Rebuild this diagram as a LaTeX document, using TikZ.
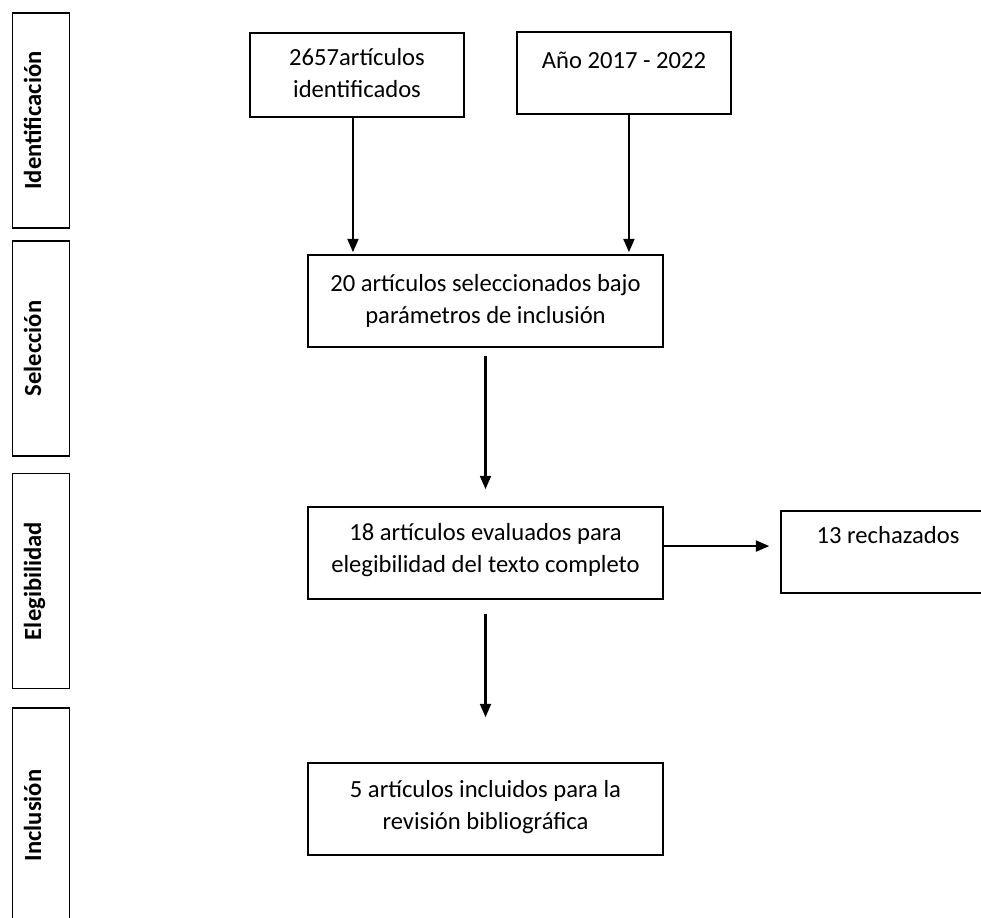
\documentclass[tikz,border=0pt]{standalone}
\usepackage{fontspec}
\setmainfont{Carlito}
\usetikzlibrary{arrows.meta,positioning,calc}
\newlength{\px}
\setlength{\px}{0.447pt}
% text box: width, height, top gap, text
\newcommand{\boxtext}[4]{\parbox[c][#2\px][t]{#1\px}{\centering\vspace*{#3\px}\strut #4\par}}
\tikzset{
    stage/.style={
        rectangle,
        draw, line width=0.7pt,
        inner sep=0pt,
        font={\fontsize{11pt}{14pt}\selectfont}
    },
    phase/.style={
        rectangle,
        draw, line width=0.7pt,
        rotate=90,
        minimum width=96.1pt,
        minimum height=25.5pt,
        text height=6pt, text depth=6pt,
        inner sep=0pt,
        font={\fontsize{11pt}{14pt}\selectfont\bfseries}
    },
    flow/.style={draw, line width=1pt, -{Triangle[width=4.9pt,length=6pt]}},
}

\begin{document}
\begin{tikzpicture}[x=0.447pt, y=-0.447pt]

\useasboundingbox (0,0) rectangle (981,917);
\clip (0,0) rectangle (981,917);

\foreach \l/\y [count=\i] in {Identificación/120.5, Selección/348.5, Elegibilidad/581, Inclusión/815.5}
  \node [phase] (phase-\i) at (41,\y) {\l};

\node [stage] (found) at (357,75) {\boxtext{214}{84}{11}{2657artículos\\identificados}};
\node [stage] (years) at (624,73) {\boxtext{214}{82}{15}{Año 2017 - 2022}};
\node [stage] (selected) at (485.5,301) {\boxtext{355}{92}{15}{20 artículos seleccionados bajo\\parámetros de inclusión}};
\node [stage] (assessed) at (485.5,553) {\boxtext{355}{92}{12}{18 artículos evaluados para\\elegibilidad del texto completo}};
\node [stage] (rejected) at (888,552) {\boxtext{214}{82}{11}{13 rechazados}};
\node [stage] (included) at (485.5,809) {\boxtext{355}{92}{13}{5 artículos incluidos para la\\revisión bibliográfica}};

\draw [flow, shorten >=0.9pt] ([xshift=-1.8pt]found.south) -- ([xshift=-1.8pt]found.south |- selected.north);
\draw [flow, shorten >=0.9pt] ([xshift=2.2pt]years.south) -- ([xshift=2.2pt]years.south |- selected.north);
\draw [flow, shorten <=3.6pt, shorten >=7.6pt] (selected.south) -- (assessed.north);
\draw [flow, shorten >=4.9pt] ([yshift=3.1pt]assessed.east) -- ([yshift=3.1pt]assessed.east -| rejected.west);
\draw [flow, shorten <=6.3pt, shorten >=20.1pt] (assessed.south) -- (included.north);

\end{tikzpicture}
\end{document}
